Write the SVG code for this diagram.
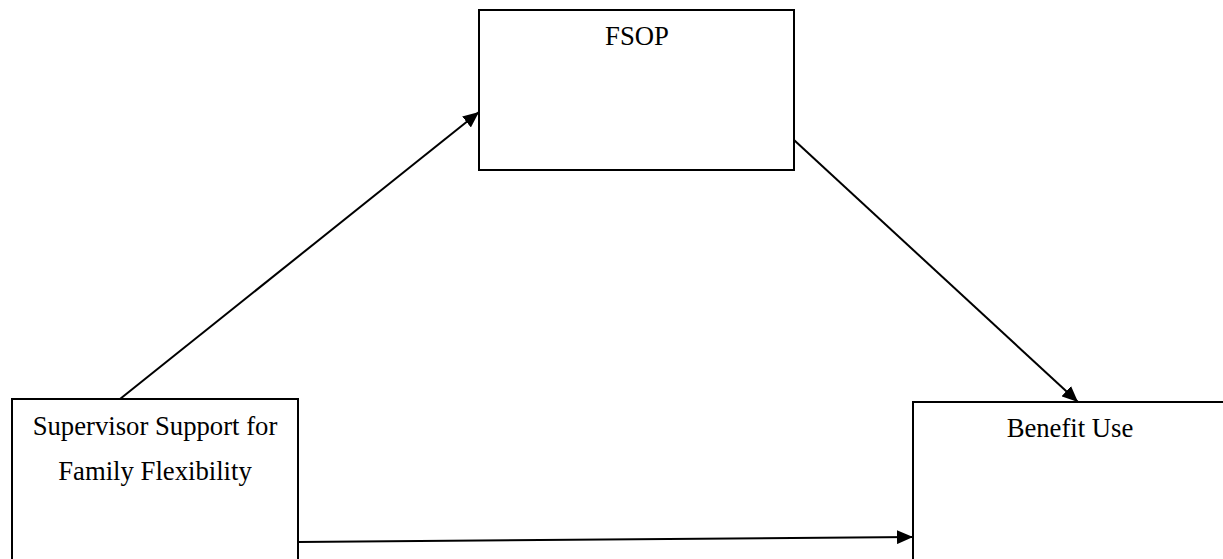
<svg xmlns="http://www.w3.org/2000/svg" width="1223" height="559" viewBox="0 0 1223 559">
<style>
.box{fill:#fff;stroke:#000;stroke-width:2}
.lbl{font-family:"Liberation Serif",serif;font-size:26.7px;fill:#000;text-anchor:middle}
.con{stroke:#000;stroke-width:2;fill:none;marker-end:url(#ah)}
</style>
<defs>
<marker id="ah" viewBox="0 0 16 14" refX="16" refY="7" markerWidth="16" markerHeight="14" markerUnits="userSpaceOnUse" orient="auto">
<path d="M0,0 L16,7 L0,14 z" fill="#000"/>
</marker>
</defs>
<rect width="1223" height="559" fill="#fff"/>
<g id="fsop"><rect class="box" x="479" y="10" width="315" height="160"/><text class="lbl" x="637" y="45">FSOP</text></g>
<g id="ssff"><rect class="box" x="12" y="399" width="286" height="162"/><text class="lbl" x="155" y="435">Supervisor Support for</text><text class="lbl" x="155" y="480">Family Flexibility</text></g>
<g id="benefit"><rect class="box" x="913" y="402" width="312" height="162"/><text class="lbl" x="1070" y="437">Benefit Use</text></g>
<g id="connectors">
<line class="con" x1="120" y1="399" x2="479" y2="112"/>
<line class="con" x1="794" y1="140" x2="1078" y2="402"/>
<line class="con" x1="298" y1="542" x2="913" y2="537"/>
</g>
</svg>
